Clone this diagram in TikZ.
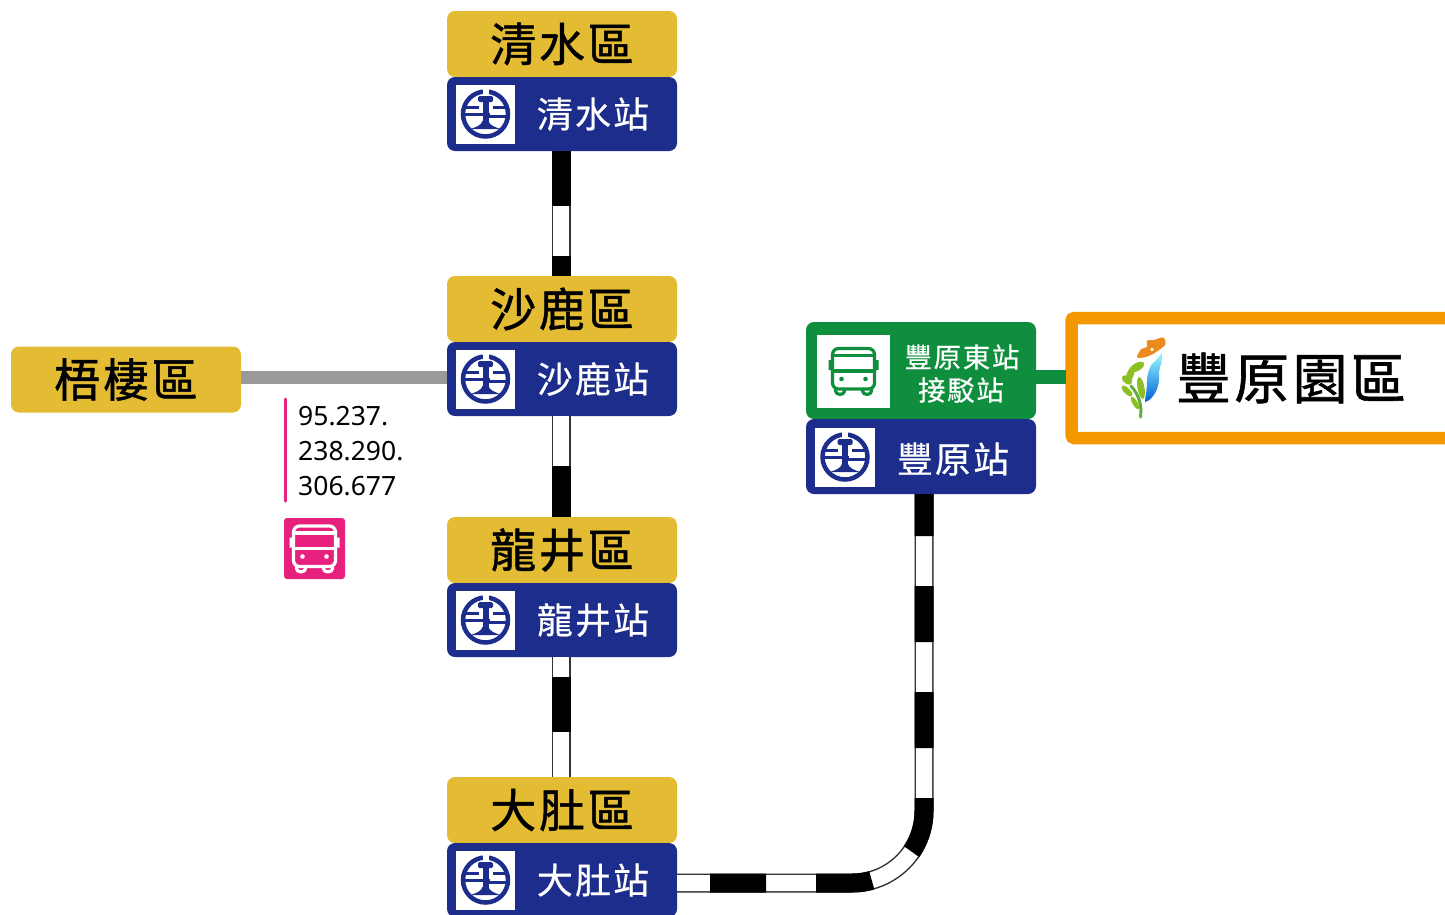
\documentclass[tikz,border=0pt]{standalone}
\usepackage{fontspec}
\setmainfont{Noto Sans}
\newfontfamily\cjkbold[LetterSpace=6,FakeBold=1.1]{Noto Sans CJK TC}
\newfontfamily\cjkplain[LetterSpace=6,FakeBold=0.5]{Noto Sans CJK TC}
\definecolor{zoney}{HTML}{E3BC33}
\definecolor{trablue}{HTML}{1D2D8B}
\definecolor{busgreen}{HTML}{0F8F3E}
\definecolor{buspink}{HTML}{E6207C}
\definecolor{parkorange}{HTML}{F39800}
\definecolor{linegrey}{HTML}{999999}
\definecolor{leafgreen}{HTML}{8DBF22}
\definecolor{stemgreen}{HTML}{5FAE3A}
\definecolor{petal}{HTML}{EE8A1D}
\tikzset{
  zonebox/.style={fill=zoney,rounded corners=8pt,minimum width=230pt,minimum height=66pt,inner sep=0pt,outer sep=0pt},
  stationbox/.style={fill=trablue,rounded corners=8pt,minimum width=230pt,minimum height=74pt,inner sep=0pt,outer sep=0pt},
  zonetext/.style={text=black,font=\fontsize{46}{46}\cjkbold,inner sep=0pt},
  stationtext/.style={text=white,font=\fontsize{36}{36}\cjkplain,inner sep=0pt},
  whitesq/.style={fill=white,inner sep=0pt,outer sep=0pt,minimum size=59pt},
  trackbase/.style={line width=19pt,draw=black!80},
  trackwhite/.style={line width=16pt,draw=white},
  trackdash/.style={line width=19pt,draw=black,dash pattern=on 55pt off 50pt},
  numtext/.style={anchor=base west,inner sep=0pt,font=\fontsize{26.5}{26.5}\selectfont},
}
\newcommand\tralogo[1]{%
  \begin{scope}[shift={(#1)},trablue]
    \draw[line width=4.5pt] (0,0) circle (22.5);
    \fill[white] (-3,-26) rectangle (3,-19);
    % rail head, web and foot
    \fill[rounded corners=1.5pt] (-7.5,-18) rectangle (7.5,-12);
    \fill (-3,-13) rectangle (3,9);
    \fill (-3,7) .. controls (-4,11) and (-9,13) .. (-15,15) -- (15,15) .. controls (9,13) and (4,11) .. (3,7) -- cycle;
    % bars
    \fill (-21,-8) rectangle (-7,-5.5);
    \fill (7,-8) rectangle (21,-5.5);
    \fill (-22,-1.5) rectangle (4,1.5);
    \fill (3,1) rectangle (22,4);
  \end{scope}}
\newcommand\busicon[2]{%
  \begin{scope}[shift={(#1)},line width=3.2pt,draw=#2,fill=#2,line cap=round,line join=round]
    \draw[#2,rounded corners=6pt] (-21,-22.5) rectangle (21,18);
    \draw[#2,rounded corners=2pt] (-21,-15.5) -- (21,-15.5) (-21,0) -- (21,0);
    \fill[#2] (-25,-11) rectangle (-21,-1) (21,-11) rectangle (25,-1);
    \fill[#2] (-12,8) circle (2.3) (12,8) circle (2.3);
    \draw[#2] (-18,18) -- (-18,20) .. controls (-18,24.5) and (-9,24.5) .. (-9,20) -- (-9,18);
    \draw[#2] (18,18) -- (18,20) .. controls (18,24.5) and (9,24.5) .. (9,20) -- (9,18);
  \end{scope}}
% #1 name, #2 top y, #3 text zone, #4 text station
\newcommand\trastop[4]{%
  \node[zonebox] (#1z) at (562,#2+33) {};
  \node[zonetext] (#1zt) at (562,#2+33) {#3};
  \node[stationbox] (#1) at (562,#2+103) {};
  \node[whitesq] (#1sq) at (485.5,#2+103) {};
  \tralogo{485.5,#2+103}
  \node[stationtext] (#1t) at (593,#2+103) {#4};
}
\begin{document}
\begin{tikzpicture}[x=1pt,y=-1pt]
\clip (0,0) rectangle (1445,914);
\fill[white] (0,0) rectangle (1445,914);

\trastop{qs}{11}{清水區}{清水站}
\trastop{sl}{276}{沙鹿區}{沙鹿站}
\trastop{lj}{517}{龍井區}{龍井站}
\trastop{dd}{777}{大肚區}{大肚站}

% west zone
\node[zonebox] (wq) at (126,379.5) {};
\node[zonetext] (wqt) at (126,379.5) {梧棲區};
\draw[line width=13pt,linegrey] (wq.east |- sl) ++(0,-1.5) -- ([yshift=1.5pt]sl.west);

% bus lines
\coordinate (pinktop) at (285,399);
\coordinate (pinkbot) at (285,501);
\draw[buspink,line width=3pt,line cap=round] (pinktop) -- (pinkbot);
\node[numtext] (n1) at (298,425) {95.237.};
\node[numtext] (n2) at (298,460) {238.290.};
\node[numtext] (n3) at (298,495) {306.677};
\node[fill=buspink,rounded corners=3pt,minimum size=61pt,inner sep=0pt] (pinkbus) at (314.5,548.5) {};
\busicon{314.5,548.5}{white}

% Fengyuan
\node[fill=busgreen,rounded corners=8pt,minimum width=230pt,minimum height=97pt,inner sep=0pt,outer sep=0pt] (fe) at (921,370.5) {};
\node[fill=white,minimum width=73pt,minimum height=73pt,inner sep=0pt] (fesq) at (853.5,371) {};
\busicon{853.5,371}{busgreen}
\node[text=white,font=\fontsize{27.5}{27.5}\cjkplain,inner sep=0pt] (fet1) at (962,357) {豐原東站};
\node[text=white,font=\fontsize{27.5}{27.5}\cjkplain,inner sep=0pt] (fet2) at (961,390) {接駁站};
\node[stationbox,minimum height=75pt] (fy) at (921,456.5) {};
\node[fill=white,minimum width=60pt,minimum height=59pt,inner sep=0pt] (fysq) at (845,457) {};
\tralogo{845,457}
\node[stationtext] (fyt) at (953,459) {豐原站};

% park
\node[draw=parkorange,line width=12.5pt,fill=white,rounded corners=3pt,minimum width=420pt,minimum height=120pt,inner sep=0pt,outer sep=0pt,anchor=west] (park) at (1071.5,378) {};
\node[text=black,font=\fontsize{55}{55}\cjkbold,inner sep=0pt] (parkt) at (1291,378) {豐原園區};
\draw[busgreen,line width=14pt] ([yshift=-6.5pt]fe.east) -- ++(30,0);

% park emblem
\shade[top color=cyan!40!white,bottom color=blue!55!cyan!85!black,draw=none]
  (1145,402) .. controls (1146,394) and (1147,388) .. (1147,381) .. controls (1147,374) and (1149,370) .. (1151,365)
  .. controls (1155,361) and (1159,358) .. (1162,352) .. controls (1163,360) and (1160,366) .. (1159,372)
  .. controls (1160,382) and (1157,390) .. (1155,393) .. controls (1152,398) and (1149,401) .. (1145,402) -- cycle;
\fill[petal] plot[smooth cycle,tension=0.6] coordinates {(1137,357) (1141.5,349) (1147,347) (1147,340.5) (1154,340) (1163,337.5) (1165.5,344) (1159,350) (1153,354) (1144,357.5)};
\fill[white] (1152,349.5) circle (1.8);
\draw[stemgreen,line width=3pt,line cap=round] (1140.5,417) .. controls (1142,405) and (1139,395) .. (1131,386);
\fill[leafgreen,rotate around={30:(1137,367)}] (1137,367) ellipse (8 and 4);
\fill[leafgreen,rotate around={-40:(1127,380)}] (1127,380) ellipse (6 and 3.5);
\fill[leafgreen,rotate around={-45:(1127,391)}] (1127,391) ellipse (7 and 3);
\fill[leafgreen,rotate around={-80:(1141,388)}] (1141,388) ellipse (11 and 3.5);
\fill[leafgreen,rotate around={70:(1130,375)}] (1130,375) ellipse (9 and 3.5);
\fill[leafgreen,rotate around={-60:(1135,403)}] (1135,403) ellipse (7 and 2.5);

% tracks
\foreach \a/\b/\ph in {qs/sl/0,sl/lj/55,lj/dd/85}{
  \coordinate (ta) at ([xshift=-1pt]\a.south);
  \coordinate (tb) at ([xshift=-1pt]\b z.north);
  \draw[trackbase] (ta) -- (tb);
  \draw[trackwhite] (ta) -- (tb);
  \draw[trackdash,dash phase=\ph pt] (ta) -- (tb);
}
\coordinate (ds) at ([yshift=-3pt]dd.east);
\coordinate (fs) at ([xshift=3pt]fy.south);
\coordinate (bend) at (fs |- ds);
\draw[trackbase,rounded corners=72pt] (ds) -- (bend) -- (fs);
\draw[trackwhite,rounded corners=72pt] (ds) -- (bend) -- (fs);
\draw[line width=19pt,black,dash pattern=on 56pt off 50pt,dash phase=73pt,rounded corners=72pt] (ds) -- (bend) -- (fs);
\end{tikzpicture}
\end{document}
